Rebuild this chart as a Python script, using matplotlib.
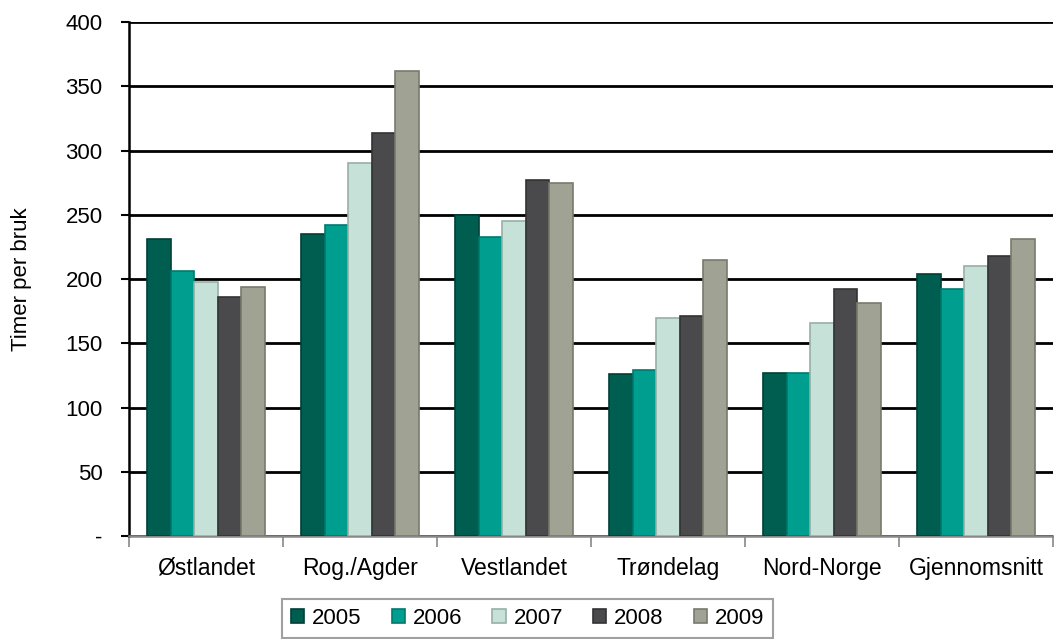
import numpy as np
import matplotlib.pyplot as plt
from matplotlib.ticker import FixedLocator, FuncFormatter

plt.rcParams['font.family'] = ['Liberation Sans', 'DejaVu Sans']

regions = ['Østlandet', 'Rog./Agder', 'Vestlandet', 'Trøndelag', 'Nord-Norge', 'Gjennomsnitt']
years = ['2005', '2006', '2007', '2008', '2009']

v2005 = [231, 235, 250, 126, 127, 204]
v2006 = [206, 242, 233, 129, 127, 192]
v2007 = [198, 290, 245, 170, 166, 210]
v2008 = [186, 314, 277, 171, 192, 218]
v2009 = [194, 362, 275, 215, 181, 231]

face = ['#005e50', '#009e8f', '#c6e2d8', '#4a4a4c', '#a0a294']
edge = ['#003f36', '#007a6e', '#96b0a6', '#333335', '#787a6e']

fig = plt.figure(figsize=(10.54, 6.39), dpi=100)
ax = fig.add_axes([0.1224, 0.161, 0.8766, 0.8046])

x = np.arange(len(regions))
w = 0.153
series = [v2005, v2006, v2007, v2008, v2009]
for i, vals in enumerate(series):
    ax.bar(x + (i - 2) * w, vals, width=w, color=face[i], edgecolor=edge[i],
           linewidth=1.2, label=years[i], zorder=3)

ax.set_xlim(-0.5, len(regions) - 0.5)
ax.set_ylim(0, 400)
ax.set_yticks(np.arange(0, 401, 50))
ax.yaxis.set_major_formatter(FuncFormatter(lambda v, p: '-' if v == 0 else f'{int(v)}'))
ax.grid(axis='y', color='black', linewidth=2, zorder=0)

ax.set_xticks(x)
ax.set_xticklabels(regions)
ax.xaxis.set_minor_locator(FixedLocator(np.arange(-0.5, len(regions), 1)))
ax.tick_params(axis='x', which='major', length=0, pad=15, labelsize=16.5)
ax.tick_params(axis='x', which='minor', length=8, color='#888888', width=1.2)
ax.tick_params(axis='y', length=6, width=1.5, labelsize=16, pad=13)

for s in ['top', 'right']:
    ax.spines[s].set_visible(False)
ax.spines['left'].set_linewidth(1.8)
ax.spines['bottom'].set_color('#888888')
ax.spines['bottom'].set_linewidth(1.8)

ax.set_ylabel('Timer per bruk', fontsize=16)
ax.yaxis.set_label_coords(-0.105, 0.5)

leg = fig.legend(loc='upper center', bbox_to_anchor=(0.5005, 0.062), ncol=5,
                 fontsize=16, frameon=True, fancybox=False, edgecolor='#888888',
                 handlelength=0.6, handleheight=0.6, handletextpad=0.35,
                 columnspacing=1.35, borderpad=0.4, borderaxespad=0)
leg.get_frame().set_linewidth(1.5)

fig.savefig('out.png', dpi=100)
